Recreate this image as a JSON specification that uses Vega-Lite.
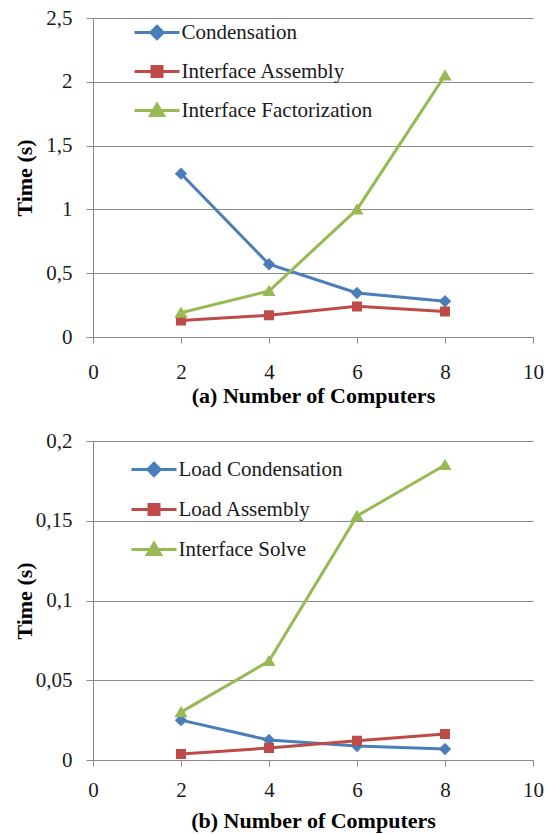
{
  "$schema": "https://vega.github.io/schema/vega-lite/v6.json",
  "background": "white",
  "padding": {"left": 13, "top": 7, "right": 10, "bottom": 2},
  "spacing": 24,
  "datasets": {
    "a": [
      {"computers": 2, "time": 1.28, "series": "Condensation"},
      {"computers": 4, "time": 0.57, "series": "Condensation"},
      {"computers": 6, "time": 0.345, "series": "Condensation"},
      {"computers": 8, "time": 0.28, "series": "Condensation"},
      {"computers": 2, "time": 0.13, "series": "Interface Assembly"},
      {"computers": 4, "time": 0.17, "series": "Interface Assembly"},
      {"computers": 6, "time": 0.24, "series": "Interface Assembly"},
      {"computers": 8, "time": 0.2, "series": "Interface Assembly"},
      {"computers": 2, "time": 0.19, "series": "Interface Factorization"},
      {"computers": 4, "time": 0.36, "series": "Interface Factorization"},
      {"computers": 6, "time": 1.0, "series": "Interface Factorization"},
      {"computers": 8, "time": 2.05, "series": "Interface Factorization"}
    ],
    "b": [
      {"computers": 2, "time": 0.025, "series": "Load Condensation"},
      {"computers": 4, "time": 0.0125, "series": "Load Condensation"},
      {"computers": 6, "time": 0.0088, "series": "Load Condensation"},
      {"computers": 8, "time": 0.0069, "series": "Load Condensation"},
      {"computers": 2, "time": 0.0038, "series": "Load Assembly"},
      {"computers": 4, "time": 0.0075, "series": "Load Assembly"},
      {"computers": 6, "time": 0.012, "series": "Load Assembly"},
      {"computers": 8, "time": 0.0163, "series": "Load Assembly"},
      {"computers": 2, "time": 0.030, "series": "Interface Solve"},
      {"computers": 4, "time": 0.062, "series": "Interface Solve"},
      {"computers": 6, "time": 0.153, "series": "Interface Solve"},
      {"computers": 8, "time": 0.185, "series": "Interface Solve"}
    ]
  },
  "vconcat": [
    {
      "width": 440,
      "height": 319,
      "data": {"name": "a"},
      "encoding": {
        "x": {
          "field": "computers", "type": "quantitative",
          "scale": {"domain": [0, 10]},
          "axis": {"values": [0, 2, 4, 6, 8, 10], "title": "(a) Number of Computers", "labelPadding": 18, "titlePadding": 3}
        },
        "y": {
          "field": "time", "type": "quantitative",
          "scale": {"domain": [0, 2.5]},
          "axis": {"values": [0, 0.5, 1, 1.5, 2, 2.5], "title": "Time (s)"}
        },
        "color": {
          "field": "series", "type": "nominal",
          "scale": {"domain": ["Condensation", "Interface Assembly", "Interface Factorization"], "range": ["#4A7EBB", "#BE4B48", "#98B954"]},
          "legend": {"legendX": 52.5, "legendY": 3, "rowPadding": 15}
        }
      },
      "layer": [
        {"mark": {"type": "line", "strokeWidth": 3}},
        {
          "mark": {"type": "point", "filled": true, "opacity": 1, "size": 400},
          "encoding": {
            "shape": {"field": "series", "type": "nominal", "scale": {"domain": ["Condensation", "Interface Assembly", "Interface Factorization"], "range": ["M-2.25,0H2.25M0,-0.62L0.62,0L0,0.62L-0.62,0Z", "M-2.25,0H2.25M-0.5,-0.5H0.5V0.5H-0.5Z", "M-2.25,0H2.25M0,-0.62L0.66,0.5H-0.66Z"]}, "legend": null}
          }
        }
      ]
    },
    {
      "width": 440,
      "height": 319,
      "data": {"name": "b"},
      "encoding": {
        "x": {
          "field": "computers", "type": "quantitative",
          "scale": {"domain": [0, 10]},
          "axis": {"values": [0, 2, 4, 6, 8, 10], "title": "(b) Number of Computers", "labelPadding": 13, "titlePadding": 10}
        },
        "y": {
          "field": "time", "type": "quantitative",
          "scale": {"domain": [0, 0.2]},
          "axis": {"values": [0, 0.05, 0.1, 0.15, 0.2], "title": "Time (s)"}
        },
        "color": {
          "field": "series", "type": "nominal",
          "scale": {"domain": ["Load Condensation", "Load Assembly", "Interface Solve"], "range": ["#4A7EBB", "#BE4B48", "#98B954"]},
          "legend": {"legendX": 49.5, "legendY": 17, "rowPadding": 16}
        }
      },
      "layer": [
        {"mark": {"type": "line", "strokeWidth": 3}},
        {
          "mark": {"type": "point", "filled": true, "opacity": 1, "size": 400},
          "encoding": {
            "shape": {"field": "series", "type": "nominal", "scale": {"domain": ["Load Condensation", "Load Assembly", "Interface Solve"], "range": ["M-2.25,0H2.25M0,-0.62L0.62,0L0,0.62L-0.62,0Z", "M-2.25,0H2.25M-0.5,-0.5H0.5V0.5H-0.5Z", "M-2.25,0H2.25M0,-0.62L0.66,0.5H-0.66Z"]}, "legend": null}
          }
        }
      ]
    }
  ],
  "resolve": {
    "scale": {"color": "independent", "shape": "independent"},
    "legend": {"color": "independent"}
  },
  "config": {
    "view": {"stroke": null},
    "font": "Liberation Serif",
    "axis": {
      "labelFont": "Liberation Serif",
      "labelFontSize": 21,
      "labelColor": "#1a1a1a",
      "titleFont": "Liberation Serif",
      "titleFontSize": 22,
      "titleFontWeight": "bold",
      "titleColor": "#000000",
      "domainColor": "#8a8a8a",
      "tickColor": "#8a8a8a",
      "gridColor": "#8a8a8a",
      "gridOpacity": 1,
      "domainWidth": 1,
      "tickWidth": 1,
      "gridWidth": 1
    },
    "axisX": {"grid": false, "tickSize": 6, "labelFlush": false},
    "axisY": {
      "grid": true,
      "tickSize": 7,
      "labelPadding": 14,
      "labelExpr": "replace(toString(datum.value), '.', ',')",
      "titleX": -69,
      "titleY": 159.5,
      "titleAngle": -90,
      "titleAlign": "center",
      "titleBaseline": "middle"
    },
    "legend": {
      "orient": "none",
      "title": null,
      "padding": 0,
      "labelFont": "Liberation Serif",
      "labelFontSize": 21,
      "labelColor": "#1a1a1a",
      "labelOffset": 13,
      "symbolSize": 400,
      "symbolStrokeWidth": 3,
      "rowPadding": 14,
      "labelLimit": 400
    }
  }
}
